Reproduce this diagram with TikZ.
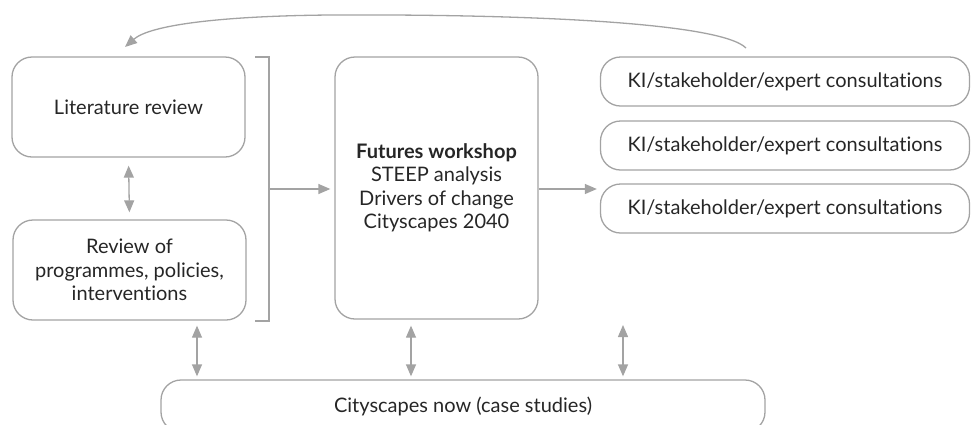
\documentclass[tikz,border=0pt]{standalone}
\usepackage{fontspec}
\setmainfont{Lato}[Ligatures=CommonOff]
\usetikzlibrary{arrows.meta}
\definecolor{ln}{HTML}{A3A3A3}
\definecolor{tx}{HTML}{262626}
\begin{document}
\begin{tikzpicture}[x=1pt,y=-1pt,
  box/.style={draw=ln,line width=1.3pt,rounded corners=20pt,align=center,text=tx,font=\fontsize{20}{23.5}\selectfont,inner sep=0pt},
  arr/.style={draw=ln,line width=1.3pt,-{Triangle[length=12pt,width=10pt]}},
  dbl/.style={draw=ln,line width=1.3pt,{Triangle[length=12pt,width=10pt]}-{Triangle[length=12pt,width=10pt]}}]
\useasboundingbox (0,0) rectangle (971,424);
\node[box,minimum width=233pt,minimum height=100pt] (lit) at (128.5,107) {Literature review};
\node[box,minimum width=233pt,minimum height=100pt] (rev) at (129.5,270) {Review of\\programmes, policies,\\interventions};
\node[box,minimum width=203pt,minimum height=262pt] (fut) at (436.5,188) {\textbf{Futures workshop}\\STEEP analysis\\Drivers of change\\Cityscapes 2040};
\node[box,minimum width=369pt,minimum height=49pt] (ki1) at (785,81.5) {KI/stakeholder/expert consultations};
\node[box,minimum width=369pt,minimum height=49pt] (ki2) at (785,145.5) {KI/stakeholder/expert consultations};
\node[box,minimum width=369pt,minimum height=49pt] (ki3) at (785,208.5) {KI/stakeholder/expert consultations};
\node[box,minimum width=604pt,minimum height=52pt] (now) at (463,406) {Cityscapes now (case studies)};
% bracket
\coordinate (b1) at (255,57);
\coordinate (b2) at (269,57);
\coordinate (b3) at (269,321);
\coordinate (b4) at (255,321);
\coordinate (bm) at (269,189);
\draw[ln,line width=1.3pt] (b1) -- (b2) -- (b3) -- (b4);
\draw[arr,shorten >=4pt] (bm) -- (bm -| fut.west);
\draw[arr,shorten >=3pt] (fut.east |- bm) -- (bm -| ki3.west);
% feedback curve
\coordinate (cs) at (746,48);
\coordinate (ce) at (125,47);
\draw[arr] (cs) .. controls (720,22) and (520,14) .. (330,15) .. controls (220,16) and (150,25) .. (ce);
% double arrows
\draw[dbl,shorten <=8pt,shorten >=7pt] (lit.south) -- (rev.north);
\coordinate (x1) at (197,0);
\coordinate (x2) at (411,0);
\coordinate (x3) at (623,325);
\draw[dbl,shorten <=5pt,shorten >=3pt] (rev.south -| x1) -- (now.north -| x1);
\draw[dbl,shorten <=6pt,shorten >=3pt] (fut.south -| x2) -- (now.north -| x2);
\draw[dbl,shorten >=3pt] (x3) -- (now.north -| x3);
\end{tikzpicture}
\end{document}
